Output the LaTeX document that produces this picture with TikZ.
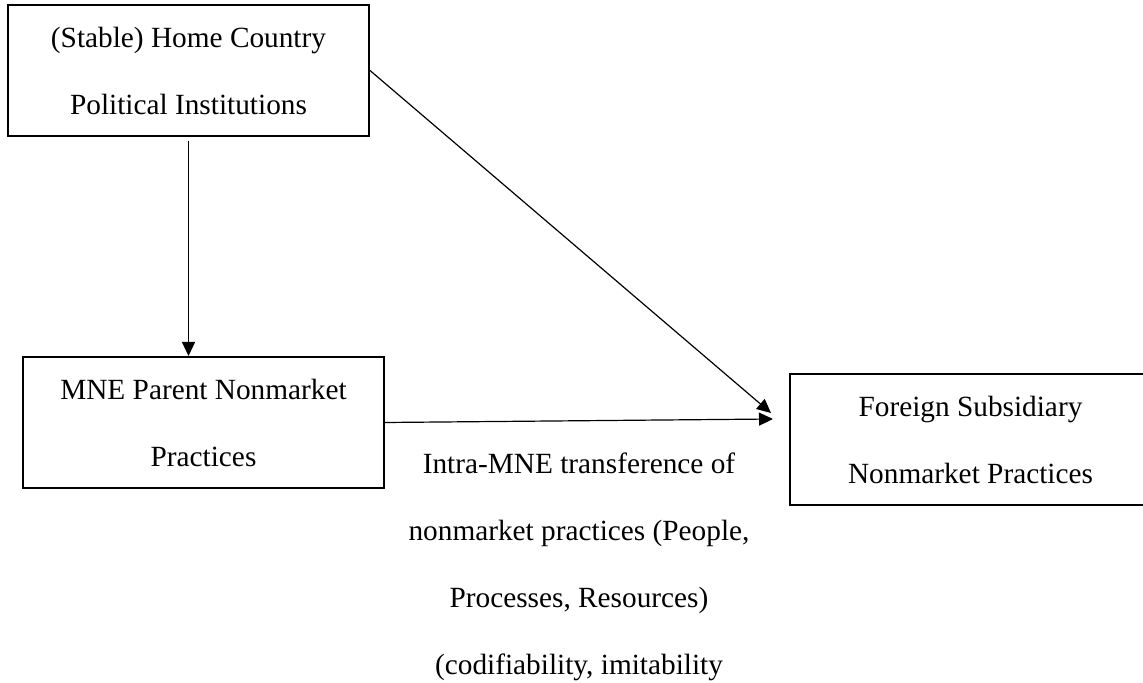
\documentclass[tikz,border=0pt]{standalone}
\usepackage{fontspec}
\setmainfont{Liberation Serif}
\usetikzlibrary{arrows.meta}

\begin{document}
\begin{tikzpicture}[x=0.5pt,y=-0.5pt,
		every node/.style={font=\fontsize{14.65}{33.5}\selectfont,align=center},
		box/.style={draw,line width=1pt,minimum width=180.5pt,minimum height=65.5pt,inner sep=0pt}]
		\useasboundingbox (0,0) rectangle (1143,683);
		\node[box] (home)   at (188.5,70.5)  {(Stable) Home Country\\Political Institutions};
		\node[box] (parent) at (203.5,422.5) {MNE Parent Nonmarket\\Practices};
		\node[box] (subsid) at (970.5,439.5) {Foreign Subsidiary\\Nonmarket Practices};
		\coordinate (endA) at (771,413);
		\coordinate (endB) at (773,419);
		\path[-{Triangle[length=7pt,width=6.5pt]},line width=0.6pt]
		(home.south) edge[shorten <=2pt] (home.south |- parent.north)
		(home.east) edge (endA)
		(parent.east) edge node (lbl) [below=16pt,inner sep=0pt] {Intra-MNE transference of\\nonmarket practices (People,\\Processes, Resources)\\(codifiability, imitability} (endB);
\end{tikzpicture}
\end{document}
